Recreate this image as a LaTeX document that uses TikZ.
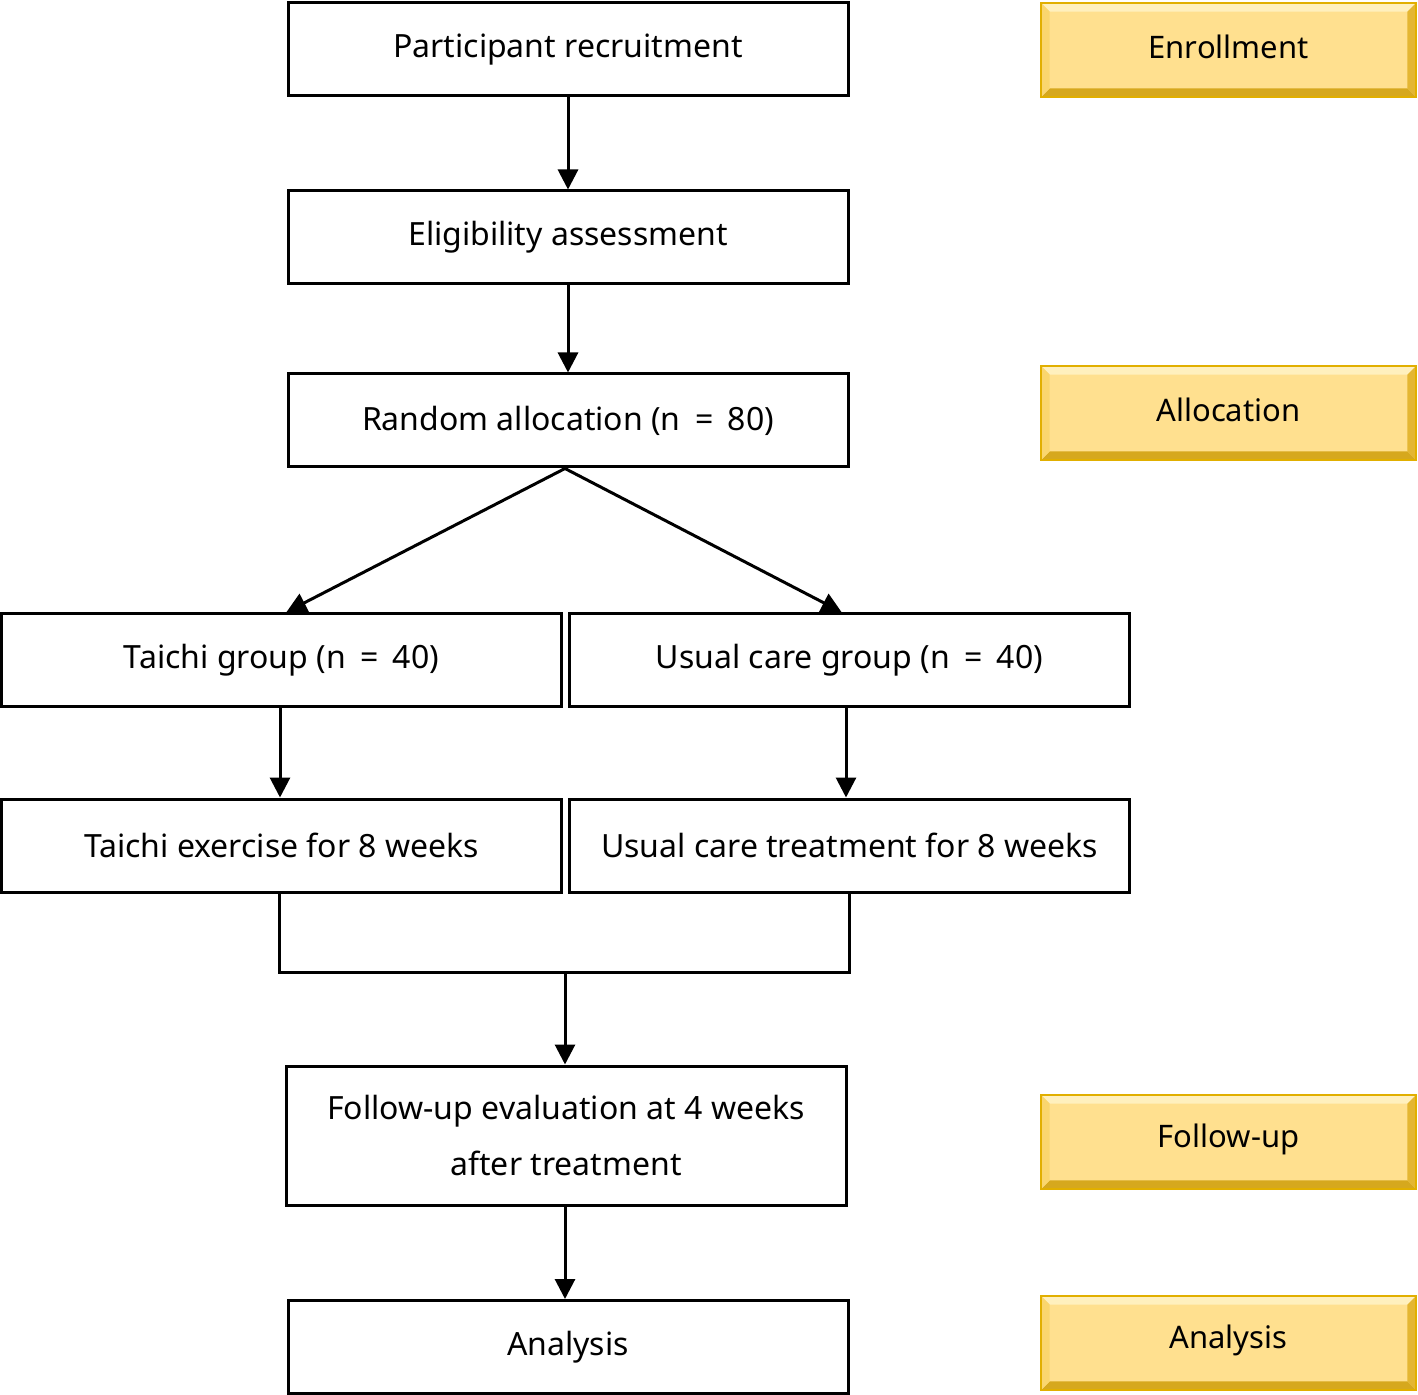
\documentclass[tikz,border=0pt]{standalone}
\usepackage{fontspec}
\setmainfont{Noto Sans}
\usetikzlibrary{arrows.meta}
\definecolor{gcenter}{RGB}{255,224,143}
\definecolor{gtop}{RGB}{255,240,190}
\definecolor{gleft}{RGB}{250,214,110}
\definecolor{gright}{RGB}{228,182,50}
\definecolor{gbottom}{RGB}{214,168,30}
\definecolor{gborder}{RGB}{225,175,0}
\newcommand\eqsp{\hspace{0.45em}=\hspace{0.45em}}
\tikzset{
  box/.style={draw=black, line width=1.5pt, fill=white, inner sep=0pt, minimum width=280pt, minimum height=46.5pt, align=center, font=\fontsize{16}{28}\selectfont},
  gold/.style={fill=gcenter, inner sep=0pt, minimum width=187.5pt, minimum height=47pt},
  conn/.style={line width=1.5pt, -{Triangle[width=10pt,length=10pt]}},
  plain/.style={line width=1.5pt},
}
\newcommand\goldbevel[2]{%
  \fill[gtop] (#1.north west) -- (#1.north east) -- ([shift={(-9,9)}]#1.north east) -- ([shift={(9,9)}]#1.north west) -- cycle;
  \fill[gbottom] (#1.south west) -- (#1.south east) -- ([shift={(-9,-9)}]#1.south east) -- ([shift={(9,-9)}]#1.south west) -- cycle;
  \fill[gleft] (#1.north west) -- ([shift={(9,9)}]#1.north west) -- ([shift={(9,-9)}]#1.south west) -- (#1.south west) -- cycle;
  \fill[gright] (#1.north east) -- ([shift={(-9,9)}]#1.north east) -- ([shift={(-9,-9)}]#1.south east) -- (#1.south east) -- cycle;
  \draw[gborder, line width=1pt] (#1.north west) rectangle (#1.south east);
  \node[font=\fontsize{15.5}{20}\selectfont] (#1t) at ([shift={(0,-3)}]#1.center) {#2};
}
\begin{document}
\begin{tikzpicture}[x=0.5pt, y=-0.5pt]
\useasboundingbox (0,0) rectangle (1418,1395);
% main flow
\node[box] (pr) at (568,49.5) {Participant recruitment};
\node[box] (ea) at (568,237.5) {Eligibility assessment};
\node[box] (ra) at (568,420.5) {Random allocation (n\eqsp80)};
\node[box] (tg) at (281.5,660) {Taichi group (n\eqsp40)};
\node[box] (ug) at (849.5,660) {Usual care group (n\eqsp40)};
\node[box] (te) at (281.5,845.5) {Taichi exercise for 8 weeks};
\node[box] (ut) at (849.5,845.5) {Usual care treatment for 8 weeks};
\node[box, minimum height=69.5pt] (fu) at (566,1135.5) {Follow-up evaluation at 4 weeks\\after treatment};
\node[box] (an) at (568,1347) {Analysis};
% gold labels
\node[gold] (g1) at (1228.5,50) {};
\node[gold] (g2) at (1228.5,413) {};
\node[gold] (g3) at (1228.5,1142) {};
\node[gold] (g4) at (1228.5,1343) {};
\goldbevel{g1}{Enrollment}
\goldbevel{g2}{Allocation}
\goldbevel{g3}{Follow-up}
\goldbevel{g4}{Analysis}
% connectors
\draw[conn] (pr.south) -- (ea.north);
\draw[conn] (ea.south) -- (ra.north);
\draw[conn] ([shift={(-3,0)}]ra.south) -- ([shift={(5,0)}]tg.north);
\draw[conn] ([shift={(-3,0)}]ra.south) -- ([shift={(-8,0)}]ug.north);
\draw[conn] ([shift={(-1.5,0)}]tg.south) -- ([shift={(-1.5,0)}]te.north);
\draw[conn] ([shift={(-3.5,0)}]ug.south) -- ([shift={(-3.5,0)}]ut.north);
\coordinate (bl) at (279,972);
\coordinate (br) at (849,972);
\coordinate (bm) at (565,972);
\draw[plain] (bl |- te.south) -- (bl) -- (br) -- (br |- ut.south);
\draw[conn] (bm) -- (bm |- fu.north);
\draw[conn] ([shift={(-1,0)}]fu.south) -- ([shift={(-1,0)}]fu.south |- an.north);
\end{tikzpicture}
\end{document}
